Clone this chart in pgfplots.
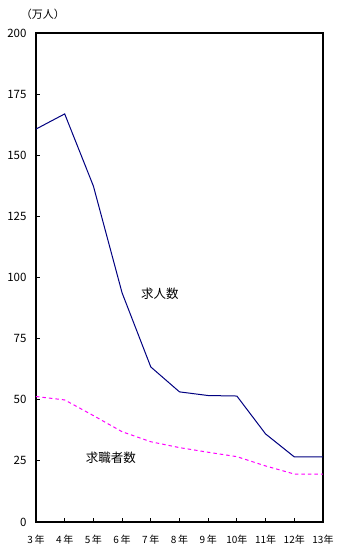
\documentclass[border=0pt]{standalone}
\usepackage{fontspec}
\setmainfont{Noto Sans CJK JP}
\usepackage{pgfplots}
\pgfplotsset{compat=1.18}
\definecolor{navyline}{RGB}{0,0,128}
\definecolor{magline}{RGB}{255,0,255}
\begin{document}
\begin{tikzpicture}[x=1bp,y=1bp]
\begin{axis}[
  at={(0,0)}, anchor=south west,
  scale only axis,
  width=287bp, height=489bp,
  xmin=0, xmax=10, ymin=0, ymax=200,
  xtick={0,1,2,3,4,5,6,7,8,9,10},
  xticklabels={3\,年,4\,年,5\,年,6\,年,7\,年,8\,年,9\,年,10年,11年,12年,13年},
  ytick={0,25,50,75,100,125,150,175,200},
  tick align=inside,
  xtick pos=bottom, ytick pos=left,
  major tick length=4bp,
  tick style={black, line width=1bp},
  axis line style={black, line width=1.2bp},
  /pgf/number format/assume math mode=true,
  yticklabel style={font=\fontsize{11.5bp}{13bp}\selectfont, xshift=-6bp},
  xticklabel style={font=\fontsize{10bp}{12bp}\selectfont, yshift=-10bp},
  clip=false,
]
\addplot[navyline, line width=1bp] coordinates {
  (0,160.7) (1,166.9) (2,137.4) (3,93.7) (4,63.4) (5,53.2) (6,51.7) (7,51.5) (8,36.0) (9,26.6) (10,26.6)
};
\addplot[magline, line width=1bp, dash pattern=on 3.5bp off 3bp] coordinates {
  (0,51.3) (1,49.9) (2,43.5) (3,36.9) (4,32.8) (5,30.4) (6,28.5) (7,26.7) (8,22.9) (9,19.6) (10,19.6)
};
\node[font=\fontsize{12.5bp}{14bp}\selectfont] at (axis cs:4.32,93.3) {求人数};
\node[font=\fontsize{12.5bp}{14bp}\selectfont] at (axis cs:2.61,26.2) {求職者数};
\node[font=\fontsize{11bp}{13bp}\selectfont] at (rel axis cs:0.024,1.039) {（万人）};
\end{axis}
\path[use as bounding box] (-36bp,-26bp) rectangle (305bp,522bp);
\end{tikzpicture}
\end{document}
